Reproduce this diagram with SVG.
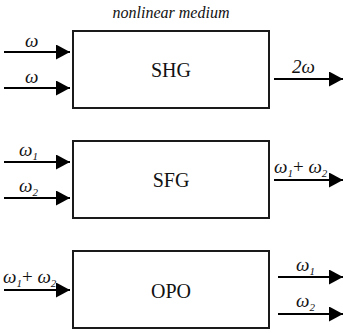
<svg xmlns="http://www.w3.org/2000/svg" width="343" height="333" viewBox="0 0 343 333">
<defs>
<style>
.box{fill:#fff;stroke:#1a1a1a;stroke-width:2}
.lbl{font-family:"Liberation Serif","Times New Roman",serif;font-size:20px;fill:#111;text-anchor:middle}
.w{font-family:"Liberation Serif","DejaVu Serif","Times New Roman",serif;font-style:italic;font-size:19px;fill:#111}
.sub{font-size:11px}
.up{font-style:normal}
.title{font-family:"Liberation Serif","DejaVu Serif","Times New Roman",serif;font-style:italic;font-size:16px;fill:#111;text-anchor:middle}
.arr{stroke:#000;stroke-width:2;fill:none;marker-end:url(#ah)}
</style>
<marker id="ah" markerUnits="userSpaceOnUse" markerWidth="14" markerHeight="16" refX="14" refY="7.5" orient="auto">
<path d="M0,0 L14,7.5 L0,15 Z" fill="#000"/>
</marker>
</defs>
<rect width="343" height="333" fill="#fff"/>
<text class="title" x="171" y="18">nonlinear medium</text>
<g id="shg">
<rect class="box" x="73" y="31" width="196" height="77"/>
<text class="lbl" x="171" y="77">SHG</text>
</g>
<g id="sfg">
<rect class="box" x="73" y="141" width="196" height="77"/>
<text class="lbl" x="171" y="187">SFG</text>
</g>
<g id="opo">
<rect class="box" x="73" y="251" width="196" height="77"/>
<text class="lbl" x="171" y="298">OPO</text>
</g>
<g id="connectors">
<line class="arr" x1="4" y1="52" x2="70" y2="52"/>
<line class="arr" x1="4" y1="88" x2="70" y2="88"/>
<line class="arr" x1="274" y1="79" x2="343" y2="79"/>
<line class="arr" x1="4" y1="162" x2="70" y2="162"/>
<line class="arr" x1="4" y1="198" x2="70" y2="198"/>
<line class="arr" x1="274" y1="180" x2="343" y2="180"/>
<line class="arr" x1="4" y1="290" x2="70" y2="290"/>
<line class="arr" x1="278" y1="277" x2="343" y2="277"/>
<line class="arr" x1="278" y1="314" x2="343" y2="314"/>
</g>
<g id="labels">
<text class="w" x="25" y="47">ω</text>
<text class="w" x="25" y="83">ω</text>
<text class="w" x="292" y="73">2ω</text>
<text class="w" x="19" y="156">ω<tspan class="sub" dy="4">1</tspan></text>
<text class="w" x="19" y="192">ω<tspan class="sub" dy="4">2</tspan></text>
<text class="w" x="274" y="173">ω<tspan class="sub" dy="4">1</tspan><tspan class="up" dy="-4">+</tspan> ω<tspan class="sub" dy="4">2</tspan></text>
<text class="w" x="3" y="283">ω<tspan class="sub" dy="4">1</tspan><tspan class="up" dy="-4">+</tspan> ω<tspan class="sub" dy="4">2</tspan></text>
<text class="w" x="296" y="271">ω<tspan class="sub" dy="4">1</tspan></text>
<text class="w" x="296" y="307">ω<tspan class="sub" dy="4">2</tspan></text>
</g>
</svg>
